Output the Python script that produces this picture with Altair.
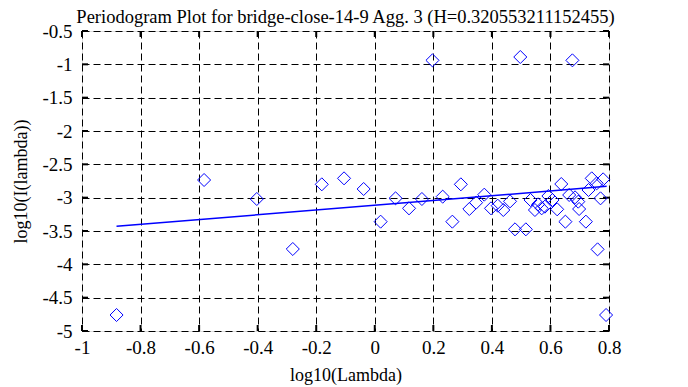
import altair as alt
import pandas as pd

# Periodogram points (log10(Lambda), log10(I(lambda)))
px = [-0.882, -0.583, -0.403, -0.280, -0.181, -0.105, -0.038, 0.020, 0.071, 0.117,
      0.161, 0.197, 0.232, 0.265, 0.294, 0.323, 0.346, 0.374, 0.397, 0.420,
      0.439, 0.462, 0.479, 0.497, 0.516, 0.532, 0.547, 0.558, 0.570, 0.581,
      0.593, 0.607, 0.623, 0.637, 0.651, 0.664, 0.675, 0.684, 0.695, 0.698,
      0.721, 0.730, 0.741, 0.758, 0.761, 0.771, 0.780, 0.790]
py = [-4.76, -2.735, -3.02, -3.77, -2.80, -2.71, -2.87, -3.36, -3.01, -3.16,
      -3.02, -0.94, -2.985, -3.36, -2.80, -3.17, -3.075, -2.955, -3.16, -3.12,
      -3.185, -3.055, -3.475, -0.89, -3.475, -3.035, -3.185, -3.10, -3.16, -3.135,
      -2.975, -3.035, -3.175, -2.795, -3.36, -2.96, -0.94, -2.995, -3.06, -3.17,
      -3.36, -2.885, -2.71, -2.785, -3.775, -3.01, -2.725, -4.76]

# Least-squares fit line endpoints
fit_x = [-0.882, 0.792]
fit_y = [-3.43, -2.83]

x_ticks = [-1, -0.8, -0.6, -0.4, -0.2, 0, 0.2, 0.4, 0.6, 0.8]
y_ticks = [-5, -4.5, -4, -3.5, -3, -2.5, -2, -1.5, -1, -0.5]

title = "Periodogram Plot for bridge-close-14-9 Agg. 3 (H=0.320553211152455)"
x_title = "log10(Lambda)"
y_title = "log10(I(lambda))"

FONT = "Liberation Serif"
W, H = 527, 300
TL = 6

pts = pd.DataFrame({"x": px, "y": py})
fit = pd.DataFrame({"x": fit_x, "y": fit_y})
xt = pd.DataFrame({"v": x_ticks})
yt = pd.DataFrame({"v": y_ticks})

xs = alt.Scale(domain=[-1, 0.8], nice=False, zero=False)
ys = alt.Scale(domain=[-5, -0.5], nice=False, zero=False)

lab = "replace(toString(datum.value), '\u2212', '-')"

common = dict(labelExpr=lab, ticks=False, domain=False,
              grid=True, gridColor="black", gridDash=[7, 4], gridWidth=1, gridOpacity=1,
              labelFont=FONT, labelFontSize=19, labelColor="black", labelOverlap=False,
              titleFont=FONT, titleFontSize=18, titleFontWeight="normal", titleColor="black",
              labelFlush=False)
xaxis = alt.Axis(values=x_ticks, title=x_title, labelPadding=7, titlePadding=9, **common)
yaxis = alt.Axis(values=y_ticks, title=y_title, labelPadding=10, titlePadding=11, **common)

points = alt.Chart(pts).mark_point(shape="diamond", size=170, filled=False,
                                   color="#0000ff", strokeWidth=1, opacity=1).encode(
    x=alt.X("x:Q", scale=xs, axis=xaxis),
    y=alt.Y("y:Q", scale=ys, axis=yaxis),
)

line = alt.Chart(fit).mark_line(color="#0000ff", strokeWidth=1.5).encode(
    x=alt.X("x:Q", scale=xs, axis=xaxis), y=alt.Y("y:Q", scale=ys, axis=yaxis))

tb = alt.Chart(xt).mark_rule(color="black", strokeWidth=2).encode(
    x=alt.X("v:Q", scale=xs, axis=xaxis), y=alt.value(H - TL), y2=alt.value(H))
tt = alt.Chart(xt).mark_rule(color="black", strokeWidth=2).encode(
    x=alt.X("v:Q", scale=xs, axis=xaxis), y=alt.value(0), y2=alt.value(TL))
tlft = alt.Chart(yt).mark_rule(color="black", strokeWidth=2).encode(
    y=alt.Y("v:Q", scale=ys, axis=yaxis), x=alt.value(0), x2=alt.value(TL))
trgt = alt.Chart(yt).mark_rule(color="black", strokeWidth=2).encode(
    y=alt.Y("v:Q", scale=ys, axis=yaxis), x=alt.value(W - TL), x2=alt.value(W))

chart = alt.layer(tb, tt, tlft, trgt, line, points).properties(
    width=W, height=H,
    title=alt.TitleParams(title, font=FONT, fontSize=18.5, fontWeight="normal",
                          color="black", anchor="middle", offset=-4),
    autosize=alt.AutoSizeParams(type="none"),
    padding={"left": 74, "top": 23, "right": 70, "bottom": 56},
).configure_view(stroke="black", strokeWidth=2).configure(background="white")

chart.save("out.html", embed_options={"renderer": "svg", "actions": False})
